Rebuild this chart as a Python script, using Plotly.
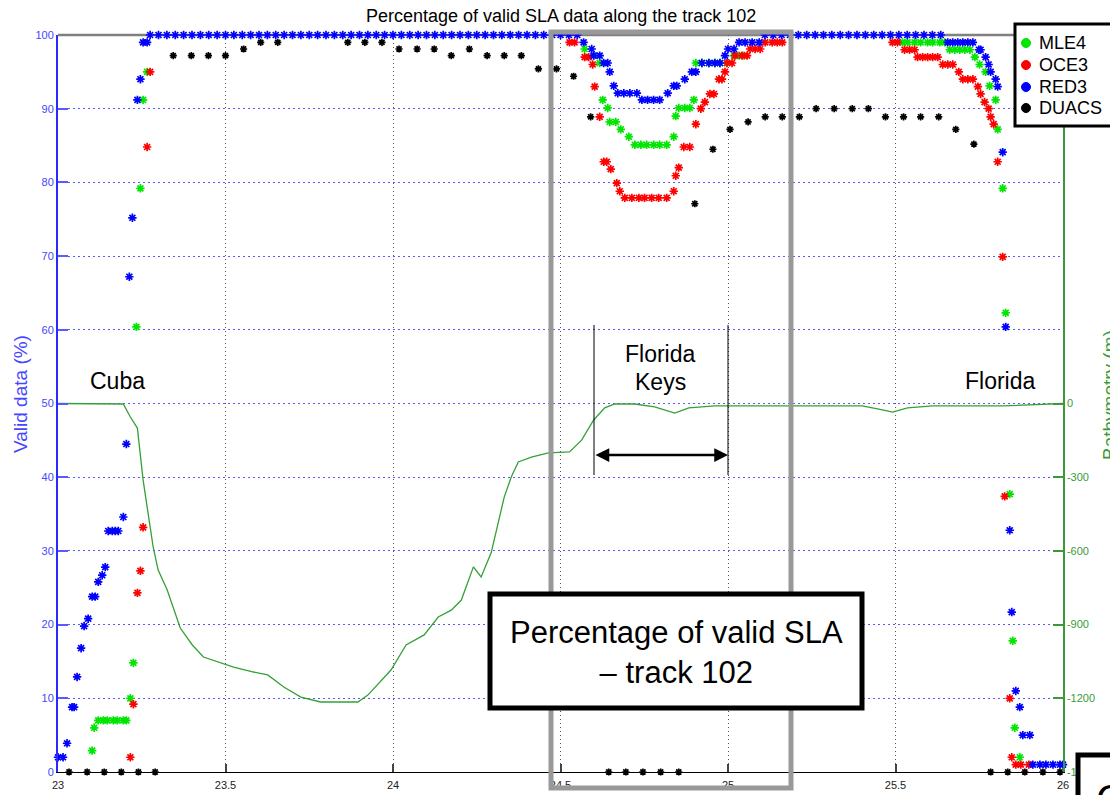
import plotly.graph_objects as go

# ---------------- data ----------------
BATHY_LAT = [23.000, 23.195, 23.216, 23.237, 23.254, 23.269, 23.284, 23.299, 23.326, 23.365,
             23.401, 23.434, 23.485, 23.524, 23.584, 23.626, 23.674, 23.725, 23.784, 23.895,
             23.925, 23.994, 24.039, 24.093, 24.135, 24.174, 24.204, 24.240, 24.263, 24.293,
             24.332, 24.353, 24.374, 24.413, 24.464, 24.527, 24.563, 24.599, 24.632, 24.662,
             24.722, 24.781, 24.841, 24.883, 24.961, 25.162, 25.401, 25.461, 25.491, 25.536,
             25.611, 25.820, 26.000]
BATHY_DEPTH = [0, -2, -55, -100, -311, -446, -584, -678, -759, -914,
               -983, -1032, -1056, -1073, -1093, -1105, -1154, -1195, -1215, -1215,
               -1187, -1085, -983, -942, -869, -841, -800, -665, -706, -608,
               -381, -299, -238, -218, -201, -197, -149, -67, -18, -2,
               -2, -14, -39, -18, -10, -10, -10, -26, -35, -18,
               -10, -10, 0]

MLE4_LAT = [23.102, 23.108, 23.120, 23.135, 23.147, 23.165, 23.177, 23.195, 23.204, 23.216,
            23.225, 23.234, 23.246, 23.254, 23.266,
            24.572, 24.599, 24.617, 24.626, 24.641, 24.647, 24.665, 24.680, 24.704, 24.722,
            24.740, 24.757, 24.778, 24.796, 24.817, 24.838, 24.844, 24.853, 24.871, 24.886,
            24.898, 24.904, 24.922, 24.943, 24.961, 24.976, 24.997, 25.018, 25.033, 25.048,
            25.521, 25.536, 25.557, 25.575, 25.596, 25.611, 25.632, 25.647, 25.662, 25.677,
            25.692, 25.707, 25.722, 25.737, 25.751, 25.769, 25.781, 25.799, 25.805, 25.820,
            25.829, 25.841, 25.850, 25.856, 25.871]
MLE4_PCT = [2.9, 6.0, 7.0, 7.0, 7.0, 7.0, 7.0, 7.0, 7.0, 10.0,
            14.8, 60.4, 79.2, 91.2, 95.0,
            98.1, 97.2, 96.2, 91.2, 90.1, 88.2, 88.2, 87.2, 86.2, 85.1,
            85.1, 85.1, 85.1, 85.1, 85.1, 86.2, 89.0, 90.1, 90.1, 90.1,
            91.2, 96.2, 96.2, 96.2, 96.2, 96.2, 96.2, 97.2, 97.2, 97.2,
            99.0, 99.0, 99.0, 99.0, 99.0, 99.0, 99.0, 99.0, 98.0, 98.0,
            98.0, 98.0, 98.0, 97.0, 96.0, 95.0, 93.1, 91.2, 87.2, 79.2,
            62.3, 37.7, 17.8, 6.0, 2.0]

OCE3_LAT = [23.216, 23.225, 23.237, 23.246, 23.254, 23.266, 23.275,
            24.527, 24.542, 24.572, 24.584, 24.596, 24.602, 24.617, 24.629, 24.638, 24.650,
            24.668, 24.677, 24.692, 24.713, 24.734, 24.751, 24.772, 24.793, 24.817, 24.838,
            24.844, 24.853, 24.868, 24.886, 24.904, 24.919, 24.931, 24.946, 24.958, 24.973,
            24.982, 24.991, 24.997, 25.012, 25.021, 25.042, 25.057, 25.066, 25.081, 25.096,
            25.111, 25.132, 25.147, 25.162,
            25.491, 25.506, 25.527, 25.542, 25.557, 25.566, 25.581, 25.596, 25.611, 25.626,
            25.641, 25.656, 25.671, 25.689, 25.701, 25.716, 25.731, 25.746, 25.754, 25.766,
            25.778, 25.784, 25.793, 25.805, 25.820, 25.826, 25.841, 25.847, 25.859, 25.874,
            25.898]
OCE3_PCT = [2.0, 9.2, 24.3, 27.3, 33.2, 84.8, 95.0,
            99.0, 99.0, 97.0, 97.0, 96.0, 93.0, 88.9, 82.8, 82.8, 81.8,
            79.9, 78.8, 77.9, 77.9, 77.9, 77.9, 77.9, 77.9, 77.9, 78.8,
            80.9, 82.0, 84.8, 84.8, 87.9, 90.0, 90.9, 92.0, 92.0, 94.0,
            94.0, 95.0, 96.2, 96.2, 97.2, 97.2, 97.2, 98.1, 98.1, 98.1,
            99.0, 99.0, 99.0, 99.0,
            99.0, 99.0, 98.0, 98.0, 98.0, 97.0, 97.0, 97.0, 97.0, 97.0,
            96.0, 96.0, 96.0, 95.0, 94.0, 94.0, 94.0, 93.0, 92.0, 90.9,
            90.0, 88.9, 87.9, 82.8, 69.9, 37.4, 10.0, 2.0, 1.0, 1.0,
            1.0]

RED3_LAT = [23.000, 23.015, 23.027, 23.042, 23.048, 23.057, 23.069, 23.078, 23.090, 23.102,
            23.111, 23.120, 23.132, 23.141, 23.150, 23.162, 23.171, 23.180, 23.195, 23.204,
            23.213, 23.222, 23.237, 23.246, 23.254, 23.266,
            23.275, 23.300, 23.325, 23.350, 23.375, 23.400, 23.425, 23.450, 23.475, 23.500,
            23.525, 23.550, 23.575, 23.600, 23.625, 23.650, 23.675, 23.700, 23.725, 23.750,
            23.775, 23.800, 23.825, 23.850, 23.875, 23.900, 23.925, 23.950, 23.975, 24.000,
            24.025, 24.050, 24.075, 24.100, 24.125, 24.150, 24.175, 24.200, 24.225, 24.250,
            24.275, 24.300, 24.325, 24.350, 24.375, 24.400, 24.425, 24.450, 24.475, 24.500,
            24.525, 24.550,
            24.569, 24.593, 24.599, 24.617, 24.629, 24.641, 24.647, 24.659, 24.671, 24.689,
            24.707, 24.728, 24.743, 24.760, 24.778, 24.796, 24.820, 24.838, 24.847, 24.871,
            24.892, 24.904, 24.922, 24.943, 24.961, 24.976, 24.991, 25.000, 25.018, 25.033,
            25.051, 25.072, 25.093,
            25.110, 25.135, 25.160, 25.185, 25.210, 25.235, 25.260, 25.285, 25.310, 25.335,
            25.360, 25.385, 25.410, 25.435, 25.460, 25.485, 25.510, 25.535, 25.560, 25.585,
            25.610, 25.635,
            25.656, 25.671, 25.686, 25.701, 25.716, 25.731, 25.749, 25.754, 25.769, 25.778,
            25.784, 25.799, 25.805, 25.820, 25.829, 25.841, 25.847, 25.859, 25.871, 25.880,
            25.901, 25.910, 25.931, 25.949, 25.970, 25.991, 26.000]
RED3_PCT = [2.0, 2.0, 3.9, 8.8, 8.8, 12.9, 16.8, 19.8, 20.8, 23.8,
            23.8, 25.8, 26.7, 27.8, 32.7, 32.7, 32.7, 32.7, 34.6, 44.5,
            67.2, 75.2, 91.2, 94.0, 99.0, 99.0,
            100, 100, 100, 100, 100, 100, 100, 100, 100, 100,
            100, 100, 100, 100, 100, 100, 100, 100, 100, 100,
            100, 100, 100, 100, 100, 100, 100, 100, 100, 100,
            100, 100, 100, 100, 100, 100, 100, 100, 100, 100,
            100, 100, 100, 100, 100, 100, 100, 100, 100, 100,
            100, 100,
            99.0, 98.1, 97.2, 97.2, 96.2, 96.2, 95.0, 93.1, 92.1, 92.1,
            92.1, 92.1, 91.2, 91.2, 91.2, 91.2, 92.1, 93.1, 93.1, 94.0,
            95.0, 95.0, 96.2, 96.2, 96.2, 96.2, 97.2, 98.1, 98.1, 99.0,
            99.0, 99.0, 99.0,
            100, 100, 100, 100, 100, 100, 100, 100, 100, 100,
            100, 100, 100, 100, 100, 100, 100, 100, 100, 100,
            100, 100,
            99.0, 99.0, 99.0, 99.0, 99.0, 99.0, 98.0, 98.0, 97.0, 96.0,
            95.0, 94.0, 93.0, 84.1, 60.4, 32.8, 21.7, 11.0, 8.8, 5.0,
            5.0, 1.0, 1.0, 1.0, 1.0, 1.0, 1.0]

DUACS_LAT = [23.033, 23.087, 23.138, 23.189, 23.240, 23.290, 23.344, 23.398, 23.449, 23.500,
             23.554, 23.605, 23.656, 23.865, 23.916, 23.967, 24.018,
             24.072, 24.123, 24.174, 24.228, 24.281, 24.332, 24.383, 24.434, 24.488, 24.539,
             24.590, 24.644, 24.695, 24.746, 24.799, 24.853, 24.901, 24.955, 25.006, 25.060,
             25.111, 25.162, 25.213, 25.263, 25.317, 25.371, 25.419, 25.470, 25.524, 25.575,
             25.629, 25.680, 25.734, 25.784, 25.835, 25.886, 25.940, 25.991]
DUACS_PCT = [0, 0, 0, 0, 0, 0, 97.2, 97.2, 97.2, 97.2,
             98.1, 99.0, 99.0, 99.0, 99.0, 99.0, 98.1,
             98.1, 98.1, 97.2, 98.1, 97.2, 97.2, 97.2, 95.4, 95.4, 94.4,
             88.9, 0, 0, 0, 0, 0, 77.1, 84.5, 87.2, 88.2,
             88.9, 88.9, 88.9, 90.0, 90.0, 90.0, 90.0, 88.9, 88.9, 88.9,
             88.9, 87.2, 85.2, 0, 0, 0, 0, 0]

SERIES_NAMES = ["MLE4", "OCE3", "RED3", "DUACS"]
X_TICKS = [23, 23.5, 24, 24.5, 25, 25.5, 26]
X_TICK_TEXT = ["23", "23.5", "24", "24.5", "25", "25.5", "26"]
Y_TICKS = [0, 10, 20, 30, 40, 50, 60, 70, 80, 90, 100]
Y2_TICKS = [-1500, -1200, -900, -600, -300, 0]
Y2_TICK_TEXT = ["-1500", "-1200", "-900", "-600", "-300", "0"]

# ---------------- styling ----------------
FONT = "Liberation Sans, Arial, sans-serif"
COLORS = {"MLE4": "#00e600", "OCE3": "#ff0000", "RED3": "#0000ff", "DUACS": "#000000"}
BLUE_TXT = "#4646ff"
GREEN_AX = "#3a9a3a"

W, H = 1110, 795
L, R, T, B = 58, 1063, 35, 772


def px(xp):
    return (xp - L) / (R - L)


def py(yp):
    return (B - yp) / (B - T)


fig = go.Figure()

fig.add_trace(go.Scatter(x=BATHY_LAT, y=BATHY_DEPTH, yaxis="y2", mode="lines",
                         line=dict(color="#35a035", width=1.3), showlegend=False,
                         name="Bathymetry"))

data = {"MLE4": (MLE4_LAT, MLE4_PCT), "OCE3": (OCE3_LAT, OCE3_PCT),
        "RED3": (RED3_LAT, RED3_PCT), "DUACS": (DUACS_LAT, DUACS_PCT)}
for name in SERIES_NAMES:
    xs, ys = data[name]
    c = COLORS[name]
    sz = 6 if name == "DUACS" else 7
    fig.add_trace(go.Scatter(x=xs, y=ys, mode="markers", name=name, showlegend=False,
                             cliponaxis=False,
                             marker=dict(symbol="asterisk-open", size=sz, color=c,
                                         line=dict(color=c, width=1.7))))

shapes = []
# top frame line
shapes.append(dict(type="line", xref="paper", yref="paper", x0=0, x1=1, y0=1, y1=1,
                   line=dict(color="#808080", width=2.5), layer="between"))
# Florida Keys bracket lines
for lat in (24.6, 25.0):
    shapes.append(dict(type="line", xref="x", yref="paper", x0=lat, x1=lat,
                       y0=py(475), y1=py(325), line=dict(color="black", width=1), layer="above"))
# grey highlight frame
shapes.append(dict(type="rect", xref="paper", yref="paper", x0=px(551), x1=px(791),
                   y0=py(788), y1=py(32), line=dict(color="#999999", width=5), layer="above"))
# caption box
shapes.append(dict(type="rect", xref="paper", yref="paper", x0=px(490), x1=px(862),
                   y0=py(708), y1=py(594), line=dict(color="black", width=5),
                   fillcolor="white", layer="above"))
# partial box bottom right
shapes.append(dict(type="rect", xref="paper", yref="paper", x0=px(1078), x1=px(1150),
                   y0=py(840), y1=py(755), line=dict(color="black", width=5),
                   fillcolor="white", layer="above"))
# legend box
shapes.append(dict(type="rect", xref="paper", yref="paper", x0=px(1015), x1=px(1140),
                   y0=py(126), y1=py(24), line=dict(color="black", width=3),
                   fillcolor="white", layer="above"))
leg_y = [43, 65, 87, 108]
for name, yy in zip(SERIES_NAMES, leg_y):
    shapes.append(dict(type="circle", xref="paper", yref="paper", xsizemode="pixel",
                       ysizemode="pixel", xanchor=px(1026), yanchor=py(yy),
                       x0=-4.5, x1=4.5, y0=-4.5, y1=4.5, fillcolor=COLORS[name],
                       line=dict(color=COLORS[name], width=1), layer="above"))

ann = []
ann.append(dict(text="Percentage of valid SLA data along the track 102", xref="paper", yref="paper",
                x=px(561), y=py(16), showarrow=False, xanchor="center", yanchor="middle",
                font=dict(family=FONT, size=18, color="black")))
ann.append(dict(text="Valid data (%)", xref="paper", yref="paper", x=px(20), y=py(394),
                textangle=-90, showarrow=False, xanchor="center", yanchor="middle",
                font=dict(family=FONT, size=19, color=BLUE_TXT)))
ann.append(dict(text="Bathymetry (m)", xref="paper", yref="paper", x=px(1109), y=py(395),
                textangle=-90, showarrow=False, xanchor="center", yanchor="middle",
                font=dict(family=FONT, size=19, color=GREEN_AX)))
for txt, xx, yy in [("Cuba", 117, 381), ("Florida", 1000, 381), ("Florida", 660, 354), ("Keys", 660, 382)]:
    ann.append(dict(text=txt, xref="paper", yref="paper", x=px(xx), y=py(yy), showarrow=False,
                    xanchor="center", yanchor="middle", font=dict(family=FONT, size=23, color="black")))
# double-headed arrow
ann.append(dict(text="", xref="x", yref="y", x=25.0, y=43.0, axref="x", ayref="y", ax=24.6, ay=43.0,
                showarrow=True, arrowside="end+start", arrowhead=2, arrowsize=1.1, arrowwidth=2.5,
                arrowcolor="black", standoff=0, startstandoff=0))
# caption text
ann.append(dict(text="Percentage of valid SLA<br>– track 102", xref="paper", yref="paper",
                x=px(676), y=py(652), showarrow=False, xanchor="center", yanchor="middle",
                font=dict(family=FONT, size=31, color="black")))
ann.append(dict(text="C", xref="paper", yref="paper", x=px(1094), y=py(775), showarrow=False,
                xanchor="left", yanchor="top", font=dict(family=FONT, size=40, color="black")))
for name, yy in zip(SERIES_NAMES, leg_y):
    ann.append(dict(text=name, xref="paper", yref="paper", x=px(1037), y=py(yy), showarrow=False,
                    xanchor="left", yanchor="middle", font=dict(family=FONT, size=18, color="black")))

fig.update_layout(
    width=W, height=H,
    margin=dict(l=L, r=W - R, t=T, b=H - B, pad=0, autoexpand=False),
    paper_bgcolor="white", plot_bgcolor="white",
    showlegend=False,
    font=dict(family=FONT),
    xaxis=dict(range=[23, 26], tickvals=X_TICKS, ticktext=X_TICK_TEXT, ticks="inside", ticklen=8,
               tickcolor="#444", tickwidth=1.5, showline=True, linecolor="black", linewidth=1,
               showgrid=True, gridcolor="#555555", griddash="1px,3px", gridwidth=1, zeroline=False,
               ticklabelstandoff=3, automargin=False,
               tickfont=dict(size=11, color="#222", family=FONT)),
    yaxis=dict(range=[0, 100], tickvals=Y_TICKS, ticks="inside", ticklen=10, tickwidth=2,
               tickcolor="#5a5aff", showline=True, linecolor="#2a2aff", linewidth=2,
               showgrid=True, gridcolor="#5a5aff", griddash="2px,3px", gridwidth=1, zeroline=False,
               automargin=False,
               tickfont=dict(size=11, color=BLUE_TXT, family=FONT)),
    yaxis2=dict(overlaying="y", side="right", range=[-1500, 1500], tickvals=Y2_TICKS,
                ticktext=Y2_TICK_TEXT, ticks="inside", ticklen=10, tickwidth=2, tickcolor=GREEN_AX,
                showline=True, linecolor=GREEN_AX, linewidth=1.5, showgrid=False, zeroline=False,
                automargin=False,
                tickfont=dict(size=11, color=GREEN_AX, family=FONT)),
    shapes=shapes,
    annotations=ann,
)

fig.write_html("out.html")
